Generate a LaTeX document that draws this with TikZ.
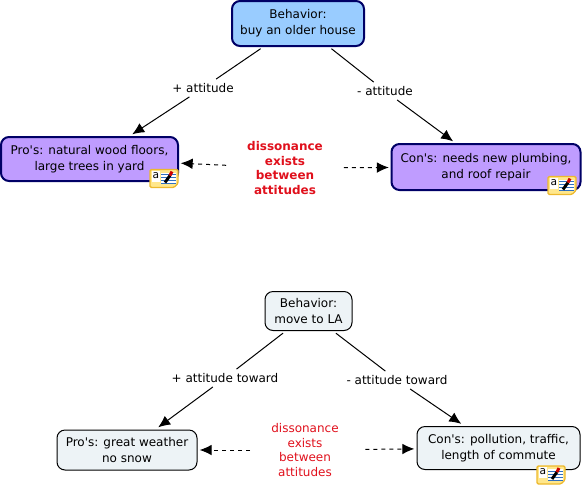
\documentclass[tikz,border=0pt]{standalone}
\usepackage{fontspec}
\setmainfont{DejaVu Sans}[Ligatures=TeXOff]
\usetikzlibrary{arrows.meta}

\definecolor{topblue}{HTML}{99CCFF}
\definecolor{navyline}{HTML}{000066}
\definecolor{purplefill}{HTML}{BF9CFF}
\definecolor{palefill}{HTML}{EDF3F6}
\definecolor{notefill}{HTML}{FFE78C}
\definecolor{noteline}{HTML}{EDB92E}
\definecolor{noteblue}{HTML}{2F6FC0}
\definecolor{redtext}{HTML}{E0101C}

\begin{document}
\begin{tikzpicture}[
x=0.75pt, y=-0.75pt,
>={Latex[length=9pt,width=8pt]},
concept/.style={rounded corners=6pt, align=center, inner sep=0pt, outer sep=2pt, font=\fontsize{9}{12}\selectfont},
strong/.style={concept, draw=navyline, line width=1.5pt},
plain/.style={concept, draw=black, line width=0.75pt, fill=palefill},
linklabel/.style={align=center, fill=white, inner sep=3pt, font=\fontsize{9}{12}\selectfont},
dissbold/.style={align=center, text=redtext, inner sep=0pt, font=\fontsize{9}{11}\selectfont\bfseries},
dissplain/.style={align=center, text=redtext, inner sep=0pt, font=\fontsize{9}{11}\selectfont},
link/.style={line width=0.75pt},
dashlink/.style={line width=0.75pt, dash pattern=on 3pt off 3pt},
notecue/.pic={
  \draw[noteline, fill=notefill, line width=1pt, rounded corners=1pt] (-14,-9) -- (14,-9) -- (14,5) -- (10,9) -- (-14,9) -- cycle;
  \fill[white] (-12,-8) rectangle (-4,3);
  \node[inner sep=0pt, font=\fontsize{8}{8}\selectfont] (-notea) at (-8,-3) {a};
  \fill[white] (-3,-6) rectangle (12,5);
  \foreach \rowy in {-4,-1,2,5} \draw[noteblue, line width=0.6pt] (-3,\rowy) -- (12,\rowy);
  \draw[black, line width=2.2pt] (1,4) -- (6,-3);
  \draw[red!80!black, line width=2.2pt] (6,-3) -- (8,-7);
}
]
\useasboundingbox (0,0) rectangle (582,490);

% buy an older house
\node[strong, fill=topblue, minimum width=99pt, minimum height=33.75pt] (behavior) at (298,23.5) {Behavior:\\buy an older house};
\node[strong, fill=purplefill, minimum width=132.75pt, minimum height=33pt] (pros) at (89.5,159) {Pro's: natural wood floors,\\large trees in yard};
\node[strong, fill=purplefill, minimum width=141.75pt, minimum height=34.5pt] (cons) at (486,167) {Con's: needs new plumbing,\\and roof repair};
\node[linklabel] (attplus) at (203,88) {+ attitude};
\node[linklabel] (attminus) at (385,91) {- attitude};
\node[dissbold, minimum width=88pt] (diss) at (285,168) {dissonance\\exists\\between\\attitudes};

\draw[link] (behavior.214) -- (attplus);
\draw[link] (behavior.323) -- (attminus);
\draw[link,->] (attplus) -- (pros.30);
\draw[link,->] (attminus) -- (cons.142);
\draw[dashlink,->] (diss) -- (pros);
\draw[dashlink,->] (diss) -- (cons);

\pic at (164,178.5) {notecue};
\pic at (562,185.5) {notecue};

% move to LA
\node[plain, minimum width=65.25pt, minimum height=29.25pt] (behaviorla) at (308.5,311) {Behavior:\\move to LA};
\node[plain, minimum width=105pt, minimum height=30pt] (prosla) at (127,450) {Pro's: great weather\\no snow};
\node[plain, minimum width=122.25pt, minimum height=32.25pt] (consla) at (498.5,448) {Con's: pollution, traffic,\\length of commute};
\node[linklabel] (attplusla) at (225,378) {+ attitude toward};
\node[linklabel] (attminusla) at (397,380) {- attitude toward};
\node[dissplain, minimum width=82pt] (dissla) at (305,450) {dissonance\\exists\\between\\attitudes};

\draw[link] (behaviorla.221) -- (attplusla);
\draw[link] (behaviorla.321) -- (attminusla);
\draw[link,->] (attplusla) -- (prosla.36);
\draw[link,->] (attminusla) -- (consla.147);
\draw[dashlink,->] (dissla) -- (prosla);
\draw[dashlink,->,shorten <=4pt] (dissla) -- (consla);

\pic at (551,475) {notecue};
\end{tikzpicture}
\end{document}
